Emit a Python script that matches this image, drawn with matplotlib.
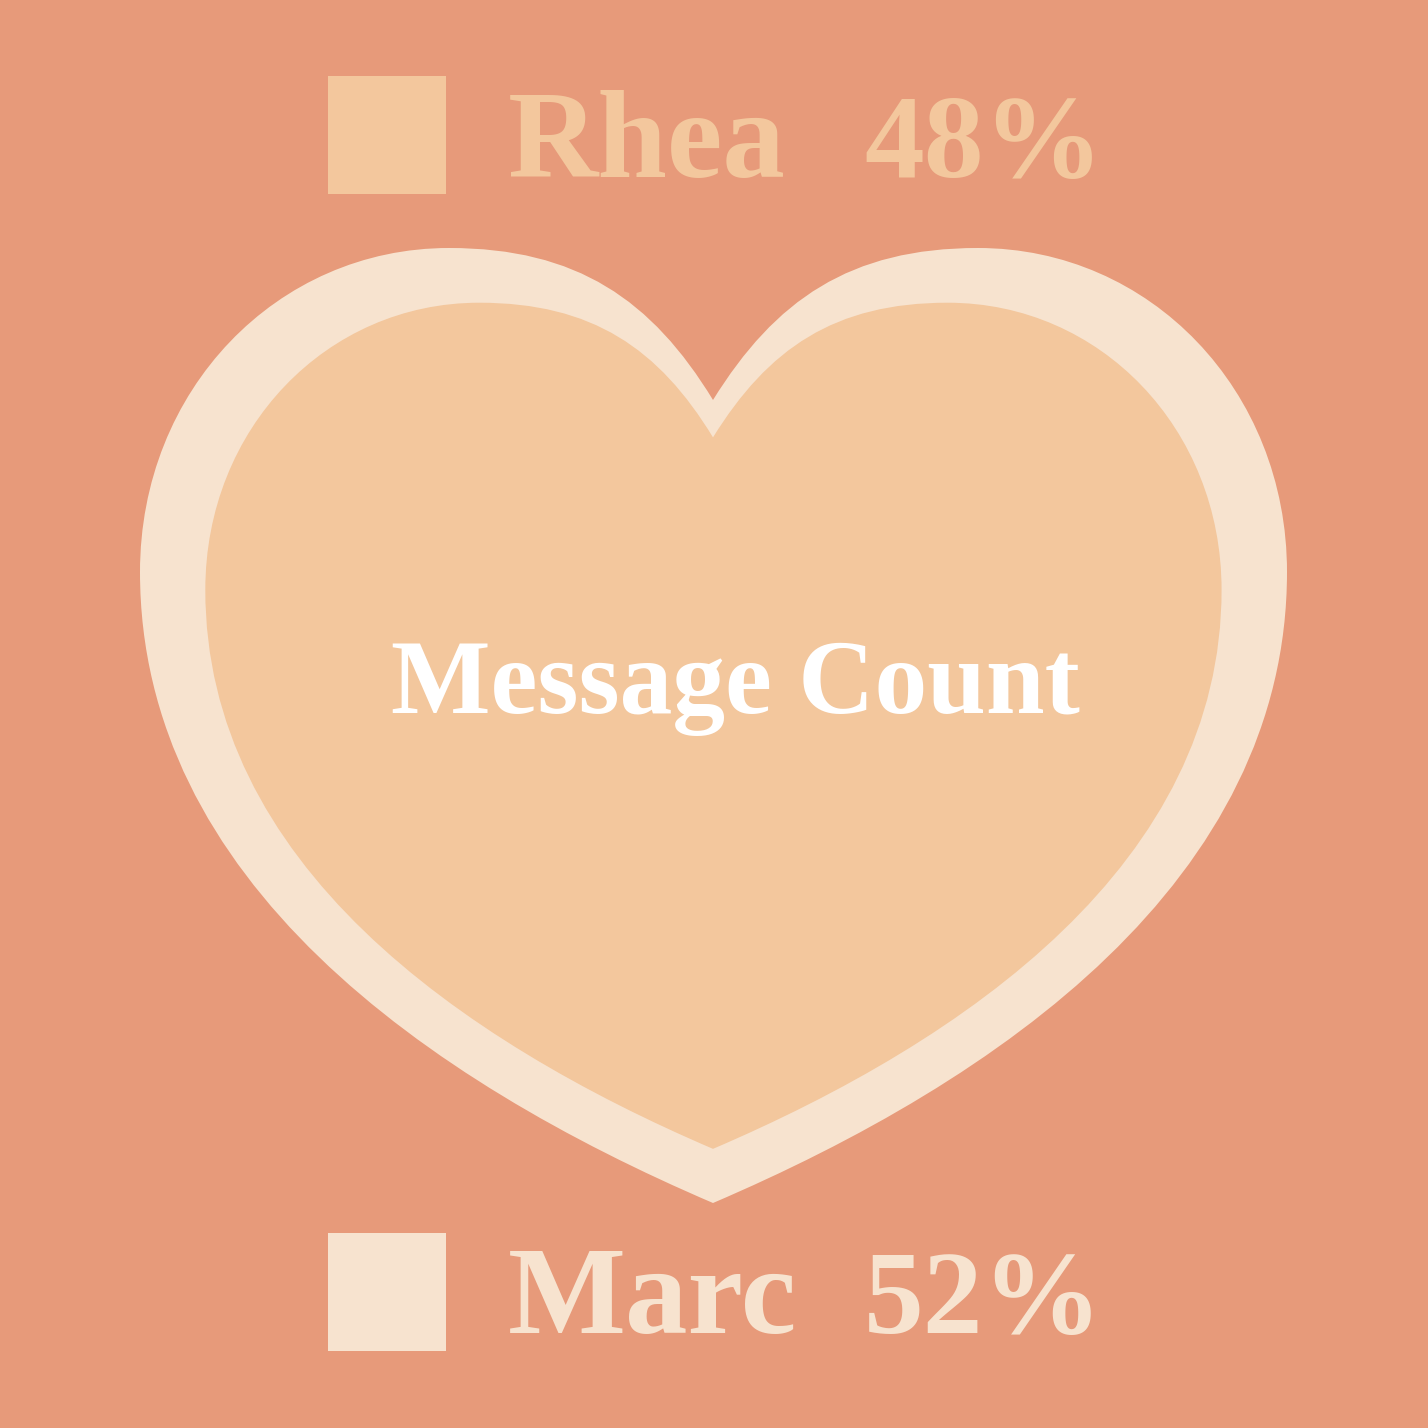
import matplotlib
matplotlib.use("Agg")
import matplotlib.pyplot as plt
from matplotlib.path import Path
from matplotlib.patches import PathPatch, Rectangle

names = ["Rhea", "Marc"]
shares = [48, 52]
colors = ["#F3C79D", "#F7E3CF"]
bg = "#E79A7A"
center_label = "Message Count"

W = 1428
fig = plt.figure(figsize=(14.28, 14.28), dpi=100, facecolor=bg)
ax = fig.add_axes([0, 0, 1, 1])
ax.set_xlim(0, W)
ax.set_ylim(W, 0)
ax.axis("off")
ax.set_facecolor(bg)

def heart(scale, ox, oy):
    # base heart outline (outer), scaled around (ox, oy)
    pts = [
        (713, 400),
        (775, 300), (850, 248), (978, 248),
        (1150, 248), (1287, 390), (1287, 572),
        (1287, 880), (1000, 1080), (713, 1203),
        (426, 1080), (140, 880), (140, 572),
        (140, 390), (277, 248), (449, 248),
        (577, 248), (652, 300), (713, 400),
    ]
    codes = [Path.MOVETO] + [Path.CURVE4] * 18
    pts = [(ox + scale * (x - ox), oy + scale * (y - oy)) for x, y in pts]
    return Path(pts, codes)

scale_inner = 0.886
ax.add_patch(PathPatch(heart(1.0, 713, 728), facecolor=colors[1], edgecolor="none"))
ax.add_patch(PathPatch(heart(scale_inner, 713, 728), facecolor=colors[0], edgecolor="none"))

ax.text(735, 713, center_label, ha="center", va="baseline", color="white",
        fontsize=76, fontweight="bold", family="Liberation Serif")

rows = [(76, 177), (1233, 1333)]
for (top, base), name, share, col in zip(rows, names, shares, colors):
    ax.add_patch(Rectangle((328, top), 118, 118, facecolor=col, edgecolor="none"))
    ax.text(508, base, name, ha="left", va="baseline", color=col,
            fontsize=90, fontweight="bold", family="Liberation Serif")
    ax.text(1103, base, f"{share}%", ha="right", va="baseline", color=col,
            fontsize=86, fontweight="bold", family="Liberation Serif")

fig.savefig("out.png", dpi=100, facecolor=bg)
